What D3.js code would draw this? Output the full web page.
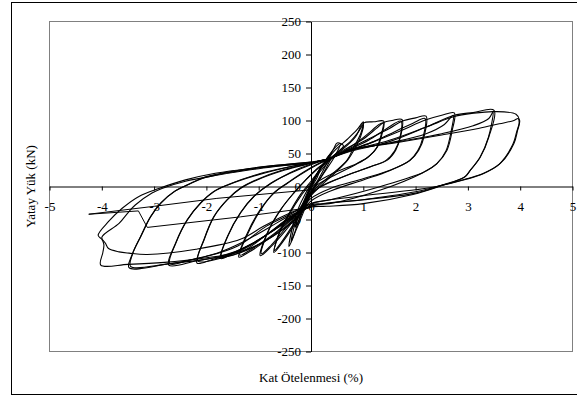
<!DOCTYPE html>
<html>
<head>
<meta charset="utf-8">
<script src="https://cdn.jsdelivr.net/npm/d3@7"></script>
<style>
  body { margin: 0; background: #fff; }
</style>
</head>
<body>
<svg id="chart" width="577" height="398"></svg>
<script>
const xTicks = [-5, -4, -3, -2, -1, 0, 1, 2, 3, 4, 5];
const yTicks = [-250, -200, -150, -100, -50, 0, 50, 100, 150, 200, 250];
const xTitle = "Kat Ötelenmesi (%)";
const yTitle = "Yatay Yük (kN)";

// each loop: [drift (%), load (kN)]
const cyc0 = [[0,0],[0.1,16],[0.2,32],[0.12,14],[0,-2],[-0.1,-20],[-0.2,-42],[-0.12,-22],[0,0]];
const cyc1a = [[0,0],[0.12,20],[0.28,40],[0.4,52],[0.3,35],[0.15,12],[0,-8],[-0.1,-25],[-0.2,-45],[-0.3,-62],[-0.22,-40],[-0.1,-18],[0.05,8],[0.2,30],[0.32,45]];
const cyc1b = [[0.32,45],[0.42,55],[0.5,66],[0.62,62],[0.56,55],[0.42,46],[0.25,22],[0.08,0],[-0.05,-20],[-0.15,-40],[-0.28,-65],[-0.42,-91],[-0.35,-60],[-0.25,-35],[-0.1,-10],[0.05,10],[0.2,30],[0.35,45]];
const cyc1c = [[0.3,40],[0.45,58],[0.56,65],[0.45,45],[0.2,15],[0,-10],[-0.2,-45],[-0.38,-84],[-0.3,-55],[-0.1,-15],[0.1,18],[0.3,40]];
const cyc2a = [[0.35,45],[0.5,58],[0.7,72],[0.88,86],[1.0,98],[0.95,80],[0.82,60],[0.69,40],[0.45,22],[0.2,5],[0,-10],[-0.15,-35],[-0.35,-62],[-0.55,-85],[-0.71,-100],[-0.6,-70],[-0.4,-40],[-0.2,-15],[0,5],[0.2,25],[0.38,42]];
const cyc2b = [[0.38,42],[0.55,55],[0.75,68],[0.9,82],[1.0,94],[0.95,76],[0.84,58],[0.7,40],[0.45,20],[0.2,2],[0,-14],[-0.2,-40],[-0.4,-65],[-0.58,-86],[-0.7,-97],[-0.6,-68],[-0.4,-38],[-0.2,-12],[0,8],[0.2,28],[0.35,42]];
const cyc3a = [[0.35,42],[0.6,56],[0.85,75],[1.0,96],[1.2,98],[1.39,99],[1.36,80],[1.27,60],[1.1,45],[0.88,35],[0.37,18],[0.05,2],[-0.1,-20],[-0.25,-42],[-0.5,-68],[-0.75,-90],[-0.97,-105],[-0.84,-71],[-0.58,-35],[-0.33,-10],[-0.1,10],[0.1,25],[0.3,38]];
const cyc3b = [[0.3,38],[0.6,52],[0.9,68],[1.15,84],[1.3,94],[1.38,96],[1.34,78],[1.25,58],[1.08,44],[0.85,33],[0.4,15],[0.05,-2],[-0.15,-28],[-0.35,-50],[-0.6,-74],[-0.8,-92],[-0.95,-102],[-0.83,-70],[-0.57,-34],[-0.32,-9],[-0.1,10],[0.1,26],[0.3,38]];
const cyc4a = [[0.3,38],[0.6,54],[1.0,72],[1.25,88],[1.39,97],[1.55,100],[1.74,101.5],[1.71,75],[1.62,55],[1.46,40],[1.14,30],[0.69,17],[0.18,0],[0,-12],[-0.25,-40],[-0.6,-66],[-1.0,-90],[-1.2,-100],[-1.38,-107],[-1.22,-71],[-0.97,-35],[-0.71,-10],[-0.45,5],[-0.2,18],[0.1,32],[0.35,42]];
const cyc4b = [[0.35,42],[0.7,55],[1.1,70],[1.45,88],[1.72,99],[1.7,74],[1.6,54],[1.44,40],[1.1,29],[0.65,16],[0.15,-2],[-0.05,-15],[-0.3,-42],[-0.65,-68],[-1.0,-88],[-1.2,-98],[-1.36,-104],[-1.2,-70],[-0.95,-34],[-0.7,-9],[-0.44,6],[-0.2,19],[0.1,33],[0.35,42]];
const cyc5a = [[0.35,42],[0.7,56],[1.1,72],[1.5,88],[1.74,99],[2.0,104],[2.2,106.5],[2.16,75],[2.06,55],[1.9,40],[1.52,25],[1.01,12],[0.37,-3],[0,-18],[-0.3,-44],[-0.7,-66],[-1.16,-88],[-1.5,-102],[-1.73,-109],[-1.6,-76],[-1.35,-40],[-1.09,-15],[-0.77,5],[-0.4,20],[0,33],[0.35,42]];
const cyc5b = [[0.35,42],[0.7,53],[1.2,68],[1.6,83],[1.95,96],[2.18,103],[2.14,74],[2.04,54],[1.88,39],[1.5,24],[1.0,10],[0.4,-6],[0,-22],[-0.3,-50],[-0.7,-74],[-1.15,-93],[-1.5,-102],[-1.71,-106],[-1.59,-75],[-1.34,-39],[-1.08,-14],[-0.76,5],[-0.4,21],[0,34],[0.35,42]];
const cyc6a = [[0.35,42],[0.7,54],[1.2,68],[1.7,84],[2.2,101],[2.5,108],[2.74,111.5],[2.7,85],[2.6,55],[2.41,35],[2.16,22],[1.33,0],[0.37,-20],[0,-26],[-0.35,-45],[-0.71,-66],[-1.16,-88],[-1.6,-104],[-1.9,-111],[-2.18,-116],[-2.05,-81],[-1.86,-46],[-1.6,-20],[-1.35,-3],[-1.03,10],[-0.5,25],[0,35],[0.35,42]];
const cyc6b = [[0.35,42],[0.7,54],[1.5,66],[2.2,80],[2.55,94],[2.72,108],[2.68,84],[2.58,54],[2.4,34],[2.14,21],[1.3,-6],[0.35,-26],[0,-28],[-0.35,-52],[-0.72,-75],[-1.2,-96],[-1.65,-107],[-2.16,-113],[-2.04,-80],[-1.85,-45],[-1.59,-19],[-1.34,-2],[-1.02,11],[-0.5,26],[0,36],[0.35,42]];
const cyc7a = [[0.35,42],[0.7,52],[1.5,68],[2.2,90],[2.74,108],[3.1,112],[3.5,115.5],[3.4,75],[3.24,45],[3.05,25],[2.95,15],[2.5,2],[2.0,-10],[1.0,-20],[0.3,-25],[0,-30],[-0.35,-46],[-0.75,-68],[-1.2,-90],[-1.7,-105],[-2.2,-113],[-2.72,-119],[-2.59,-86],[-2.37,-51],[-2.11,-25],[-1.86,-8],[-1.6,2],[-1.0,18],[-0.4,30],[0,36],[0.35,42]];
const cyc7b = [[0.35,42],[0.7,54],[1.6,67],[2.5,80],[3.1,92],[3.4,103],[3.48,113],[3.39,74],[3.23,44],[3.04,24],[2.93,14],[2.45,0],[1.95,-12],[1.0,-26],[0.3,-30],[0,-31],[-0.4,-44],[-0.8,-62],[-1.3,-84],[-1.8,-101],[-2.3,-111],[-2.7,-117],[-2.58,-85],[-2.36,-50],[-2.1,-24],[-1.85,-7],[-1.58,3],[-1.0,19],[-0.4,30],[0,36],[0.35,42]];
const cyc8a = [[0.35,42],[0.7,53],[1.5,70],[2.2,90],[2.74,106],[3.1,111],[3.5,113.5],[3.92,109.5],[3.99,100],[3.95,85],[3.88,65],[3.62,35],[3.3,20],[2.99,12],[2.41,0],[2.0,-8],[1.0,-20],[0,-30],[-0.4,-46],[-0.8,-70],[-1.35,-100],[-2.0,-110],[-2.7,-117],[-3.48,-123],[-3.42,-103],[-3.26,-76],[-3.07,-46],[-2.87,-25],[-2.62,-8],[-2.37,2],[-2.0,14],[-1.0,28],[0,36],[0.35,42]];
const cyc8b = [[0.35,42],[0.7,55],[1.6,66],[2.5,78],[3.2,88],[3.6,95],[3.88,100],[3.96,103],[3.98,97],[3.93,82],[3.86,64],[3.6,34],[3.28,19],[2.97,11],[2.4,0],[2.0,-5],[1.0,-14],[0,-26],[-0.4,-42],[-0.85,-60],[-1.4,-90],[-2.1,-108],[-2.8,-118],[-3.45,-121],[-3.41,-102],[-3.25,-75],[-3.06,-45],[-2.86,-24],[-2.6,-7],[-2.35,3],[-2.0,15],[-1.0,29],[0,37],[0.35,42]];
const cyc9a = [[0,-30],[-0.4,-47],[-0.9,-76],[-1.4,-99],[-2.1,-109],[-2.8,-115],[-3.5,-118],[-4.02,-119],[-3.98,-100],[-3.96,-88],[-4.0,-80],[-4.07,-74],[-3.87,-53],[-3.61,-33],[-3.29,-15],[-2.91,-3],[-2.4,10],[-1.83,20],[-1.0,29],[0,37]];
const cyc9b = [[0,-30],[-0.4,-40],[-0.9,-60],[-1.35,-80],[-2.2,-95],[-3.13,-103],[-3.48,-101],[-3.67,-99],[-3.87,-94],[-3.93,-86],[-4.0,-77],[-3.67,-56],[-3.48,-38],[-3.36,-28],[-3.04,-10],[-2.85,-3],[-2.4,8],[-1.8,17],[-1.0,27],[0,36]];
const finalPush = [[0,-32],[-1.35,-46],[-3.13,-62],[-3.3,-37],[-4.25,-42],[-3.0,-30],[-1.8,-18],[0,-5]];

const loops = [cyc0, cyc1a, cyc1b, cyc1c, cyc2a, cyc2b, cyc3a, cyc3b, cyc4a, cyc4b,
  cyc5a, cyc5b, cyc6a, cyc6b, cyc7a, cyc7b, cyc8a, cyc8b, cyc9a, cyc9b];

const serif = "'Liberation Serif', 'Times New Roman', 'DejaVu Serif', serif";

const svg = d3.select("#chart");
const plotLeft = 49.5, plotRight = 572.5, plotTop = 21.5, plotBottom = 351.5;

svg.append("rect")
  .attr("x", 11.5).attr("y", 2.5)
  .attr("width", 570).attr("height", 392)
  .attr("fill", "#fff").attr("stroke", "#000");

const x = d3.scaleLinear().domain([-5, 5]).range([plotLeft, plotRight]);
const y = d3.scaleLinear().domain([-250, 250]).range([plotBottom, plotTop]);

svg.append("rect")
  .attr("x", plotLeft).attr("y", plotTop)
  .attr("width", plotRight - plotLeft).attr("height", plotBottom - plotTop)
  .attr("fill", "none").attr("stroke", "#808080");

const xAxis = svg.append("g")
  .attr("transform", `translate(0,${y(0)})`)
  .call(d3.axisBottom(x).tickValues(xTicks).tickSize(4).tickSizeOuter(0).tickPadding(11).tickFormat(d => String(d)));
const yAxis = svg.append("g")
  .attr("transform", `translate(${x(0)},0)`)
  .call(d3.axisLeft(y).tickValues(yTicks).tickSize(5).tickSizeOuter(0).tickPadding(5).tickFormat(d => String(d)));

[xAxis, yAxis].forEach(g => {
  g.attr("font-family", null).attr("font-size", null);
  g.select(".domain").attr("stroke", "#000");
  g.selectAll(".tick line").attr("stroke", "#000");
  g.selectAll(".tick text")
    .style("font-family", serif)
    .style("font-size", "13px")
    .attr("fill", "#000");
});

const line = d3.line()
  .x(d => x(d[0]))
  .y(d => y(d[1]))
  .curve(d3.curveCatmullRom.alpha(0.5));

svg.append("g")
  .selectAll("path")
  .data(loops)
  .join("path")
  .attr("d", line)
  .attr("fill", "none")
  .attr("stroke", "#000")
  .attr("stroke-width", 1.1);

svg.append("path")
  .attr("d", line.curve(d3.curveLinear)(finalPush))
  .attr("fill", "none")
  .attr("stroke", "#000")
  .attr("stroke-width", 1);

svg.append("text")
  .attr("transform", `translate(30,${y(0)}) rotate(-90)`)
  .attr("text-anchor", "middle")
  .attr("dy", "0.35em")
  .style("font-family", serif)
  .style("font-size", "13px")
  .text(yTitle);

svg.append("text")
  .attr("x", x(0)).attr("y", 382)
  .attr("text-anchor", "middle")
  .style("font-family", serif)
  .style("font-size", "13px")
  .text(xTitle);
</script>
</body>
</html>
